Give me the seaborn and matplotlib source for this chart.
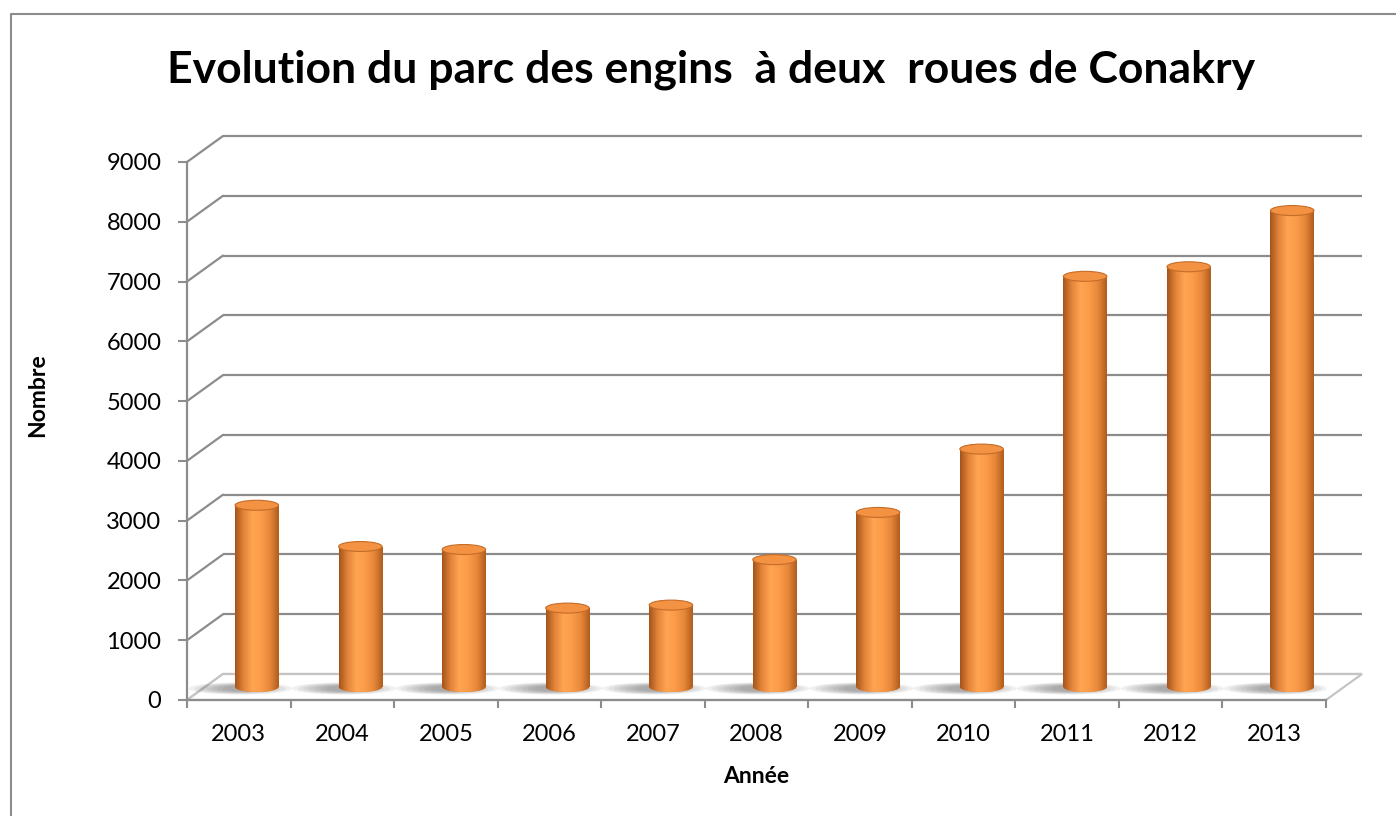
import numpy as np
import pandas as pd
import matplotlib
matplotlib.use("Agg")
import matplotlib.pyplot as plt
import seaborn as sns
from matplotlib.patches import Ellipse, Polygon
from matplotlib.colors import LinearSegmentedColormap
from matplotlib.lines import Line2D

years = ["2003", "2004", "2005", "2006", "2007", "2008",
         "2009", "2010", "2011", "2012", "2013"]
counts = [3040, 2350, 2300, 1320, 1370, 2130, 2920, 3980, 6870, 7030, 7970]
y_ticks = list(range(0, 9001, 1000))

title = "Evolution du parc des engins  à deux  roues de Conakry"
x_label = "Année"
y_label = "Nombre"

sns.set_theme(style="white")
plt.rcParams["font.family"] = ["Lato", "DejaVu Sans"]
plt.rcParams["text.color"] = "black"

W, H, DPI = 1396, 816, 100
GRID = "#8C8C8C"
FLOOR = "#C4C4C4"

fig = plt.figure(figsize=(W / DPI, H / DPI), dpi=DPI)
# axes box in pixels: front wall of the fake 3d chart
ax_left, ax_bottom, ax_w, ax_h = 187, 700, 1139, 538
ax = fig.add_axes([ax_left / W, 1 - ax_bottom / H, ax_w / W, ax_h / H])

n = len(years)
ymax = y_ticks[-1]
# depth of the box (36px right, 26px up) in data units
dx = 36 * n / ax_w
dy = 26 * ymax / ax_h
eh = 10 * ymax / ax_h  # ellipse height of the cylinder caps
px = ymax / ax_h

df = pd.DataFrame({x_label: years, y_label: counts})
sns.barplot(data=df, x=x_label, y=y_label, color="#F79646", saturation=1,
            width=0.42, ax=ax, zorder=3)

# back wall gridlines + oblique connectors
for v in y_ticks:
    col = FLOOR if v == 0 else GRID
    ax.plot([-0.5 + dx, n - 0.5 + dx], [v + dy, v + dy], color=col, lw=1.6,
            clip_on=False, zorder=1, solid_capstyle="butt")
    ax.plot([-0.5, -0.5 + dx], [v, v + dy], color=col, lw=1.6,
            clip_on=False, zorder=1)

# floor
floor = Polygon([(-0.5, 0), (n - 0.5, 0), (n - 0.5 + dx, dy), (-0.5 + dx, dy)],
                closed=True, facecolor="white", edgecolor=FLOOR, lw=1.6,
                zorder=1.5, clip_on=False)
ax.add_patch(floor)

cyl = LinearSegmentedColormap.from_list(
    "cyl", ["#A4541A", "#E3843A", "#FFA552", "#FB9B49", "#E68739", "#B05C1E"])
grad = np.linspace(0, 1, 256).reshape(1, -1)

for p in list(ax.patches)[:n]:
    if p is floor:
        continue
    x0, w, h = p.get_x() + dx / 2, p.get_width(), p.get_height()
    xc = x0 + w / 2
    p.set_x(x0)
    p.set_y(dy / 2)
    p.set_edgecolor("none")

    # soft shadow on the floor, cast towards the left
    for k in range(7):
        sh = Ellipse((xc - 0.16, dy / 2 - 1.5 * px), 1.0 - 0.11 * k,
                     (12 - k) * px, facecolor="#5A5A5A", alpha=0.09,
                     edgecolor="none", zorder=2)
        ax.add_patch(sh)

    bottom = Ellipse((xc, dy / 2), w, eh, facecolor="#E5863A",
                     edgecolor="none", zorder=2.9)
    ax.add_patch(bottom)
    for clip in (p, bottom):
        im = ax.imshow(grad, cmap=cyl, aspect="auto", zorder=3.1,
                       extent=[x0, x0 + w, dy / 2 - eh, h + dy / 2])
        im.set_clip_path(clip)

    top = Ellipse((xc, h + dy / 2), w, eh, facecolor="#F39243",
                  edgecolor="#C56C27", lw=0.8, zorder=3.3)
    ax.add_patch(top)

ax.set_xlim(-0.5, n - 0.5)
ax.set_ylim(0, ymax)

ax.set_yticks(y_ticks)
ax.set_yticklabels([str(v) for v in y_ticks])
ax.set_xticks(range(n))
ax.set_xticklabels(years)
ax.set_xticks(np.arange(-0.5, n), minor=True)
ax.tick_params(axis="y", left=True, direction="out", length=6.5, width=1.5,
               color=GRID, pad=12, labelsize=17, labelcolor="black")
ax.tick_params(axis="x", which="major", bottom=True, length=0, pad=17,
               labelsize=17, labelcolor="black")
ax.tick_params(axis="x", which="minor", bottom=True, direction="out",
               length=6, width=1.5, color=GRID)

sns.despine(ax=ax, top=True, right=True)
for side in ("left", "bottom"):
    ax.spines[side].set_color(GRID)
    ax.spines[side].set_linewidth(1.6)
    ax.spines[side].set_zorder(4)

ax.set_xlabel(x_label, fontsize=16.5, fontweight="bold", va="center",
              color="black")
ax.xaxis.set_label_coords(0.5, -0.143)
ax.set_ylabel(y_label, fontsize=16.5, fontweight="bold", va="center",
              color="black")
ax.yaxis.set_label_coords(-0.131, 0.567)

fig.text(0.509, 0.914, title, ha="center", va="center", color="black",
         fontsize=32, fontweight="bold")

# outer chart border (only top and left are inside the picture)
fig.add_artist(Line2D([11 / W, 11 / W, 1], [0, 1 - 14 / H, 1 - 14 / H],
                      color="#8C8C8C", lw=1.5, transform=fig.transFigure))

fig.savefig("out.png", dpi=DPI)
